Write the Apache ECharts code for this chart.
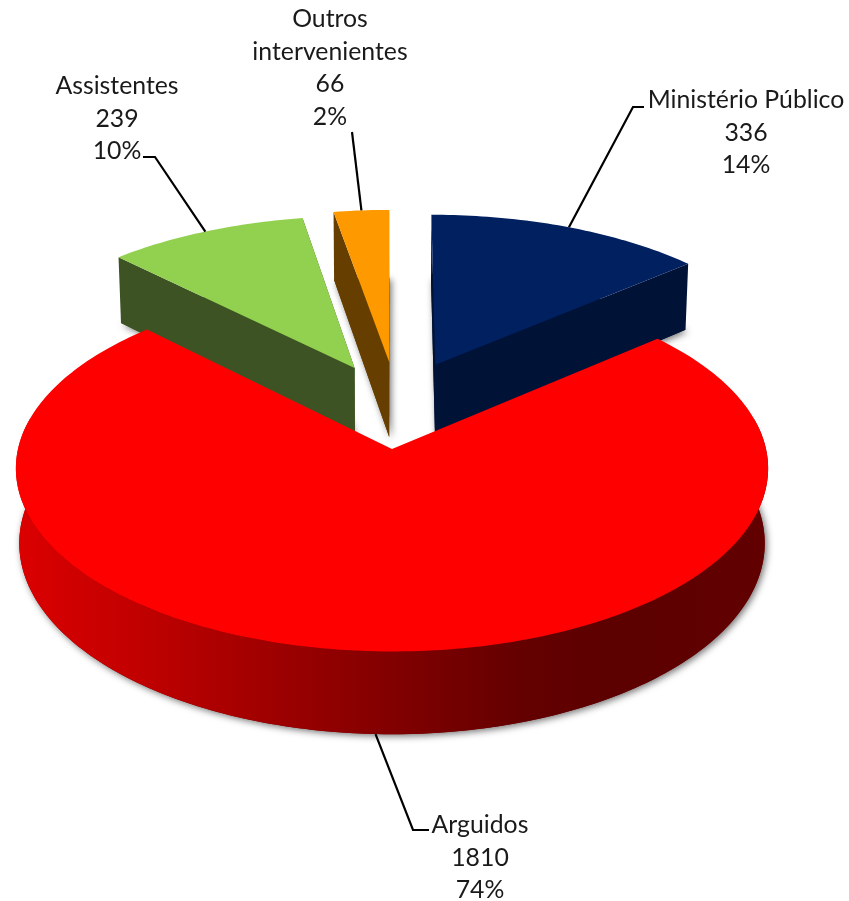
<!DOCTYPE html>
<html>
<head>
<meta charset="utf-8">
<style>
  html, body { margin: 0; padding: 0; background: #fff; }
  #main { width: 849px; height: 901px; }
</style>
<script src="https://cdn.jsdelivr.net/npm/echarts@6/dist/echarts.min.js"></script>
</head>
<body>
<div id="main"></div>
<script>
// chart data, clockwise from 12 o'clock
var categories = ['Ministério Público', 'Arguidos', 'Assistentes', 'Outros\nintervenientes'];
var values = [336, 1810, 239, 66];
var percents = ['14%', '74%', '10%', '2%'];

// look of each slice: explode is in pie radii on the ground plane
var looks = [
    { top: '#002060', wall: '#001337', explode: [0.122, 0.49], radius: 1.01, height: 74, z: 1 },
    { top: '#ff0000', wall: null, explode: [0, 0], radius: 1, height: 74, z: 5 },
    { top: '#92d050', wall: '#3e5323', explode: [-0.105, 0.47], radius: 1.02, height: 74, z: 1 },
    { top: '#ff9900', wall: '#663f00', explode: [-0.008, 0.506], radius: 1.03, height: 79, z: 2 }
];
// label centre, first line y, and the elbow of the leader line
var labelSpots = [
    { x: 746, y: 100, elbow: [[633, 107], [644, 107]] },
    { x: 480, y: 825, elbow: [[413, 830], [429, 830]] },
    { x: 117, y: 86, elbow: [[155, 157], [143, 157]] },
    { x: 330, y: 19, elbow: [[352, 132]] }
];

// simple perspective view of the pie
var view = { cx: 392, cy: 449, rx: 374, ry: 181, k: 0.106, shrink: 0.991 };

function project(px, py, drop) {
    var w = 1 + view.k * py;
    var sx = drop ? view.shrink : 1;
    return [
        view.cx + view.rx * px / w * sx,
        view.cy - (view.ry * py - drop) / w
    ];
}

var total = values.reduce(function (a, b) { return a + b; }, 0);
var starts = [];
values.reduce(function (acc, v, i) { starts[i] = acc; return acc + v; }, 0);

function rimPoint(look, deg, drop) {
    var a = deg * Math.PI / 180;
    return project(
        look.explode[0] + look.radius * Math.sin(a),
        look.explode[1] + look.radius * Math.cos(a),
        drop
    );
}

function arcPoints(look, from, to, drop) {
    var pts = [];
    var n = Math.max(2, Math.ceil(Math.abs(to - from)));
    for (var i = 0; i <= n; i++) {
        pts.push(rimPoint(look, from + (to - from) * i / n, drop));
    }
    return pts;
}

function polygon(points, fill, z2, extra) {
    var style = { fill: fill };
    if (extra) { for (var key in extra) { style[key] = extra[key]; } }
    return { type: 'polygon', z2: z2, shape: { points: points }, style: style, silent: true };
}

function renderSlice(params, api) {
    var i = params.dataIndex;
    var look = looks[i];
    var h = look.height;
    var value = api.value(0);
    var from = starts[i] / total * 360;
    var to = from + value / total * 360;
    var mid = (from + to) / 2;
    var apexTop = project(look.explode[0], look.explode[1], 0);
    var apexDown = project(look.explode[0], look.explode[1], h);
    var children = [];

    // bottom face only throws the soft shadow
    children.push(polygon([apexDown].concat(arcPoints(look, from, to, h)), look.wall || '#7a0000', 0, {
        shadowColor: 'rgba(0,0,0,0.55)', shadowBlur: 7, shadowOffsetX: 2, shadowOffsetY: 2
    }));

    if (look.wall) {
        [from, to].forEach(function (deg) {
            children.push(polygon([apexTop, rimPoint(look, deg, 0), rimPoint(look, deg, h), apexDown], look.wall, look.z));
        });
    } else {
        // round front wall with its light going from left to right
        var a = 80, b = 280;
        var front = arcPoints(look, a, b, 0).concat(arcPoints(look, a, b, h).reverse());
        children.push(polygon(front, new echarts.graphic.LinearGradient(0, 0, 1, 0, [
            { offset: 0, color: '#dc0000' },
            { offset: 0.17, color: '#c00000' },
            { offset: 0.33, color: '#a00000' },
            { offset: 0.51, color: '#800000' },
            { offset: 0.67, color: '#640000' },
            { offset: 0.8, color: '#5c0000' },
            { offset: 1, color: '#620000' }
        ]), look.z));
    }

    children.push(polygon([apexTop].concat(arcPoints(look, from, to, 0)), look.top, look.z + 1));

    // leader line from the outer rim to the label
    var spot = labelSpots[i];
    var start = rimPoint(look, mid, look.wall === null ? h : 0);
    children.push({
        type: 'polyline', z2: 8, silent: true,
        shape: { points: [start].concat(spot.elbow) },
        style: { stroke: '#000', lineWidth: 2.2, fill: null }
    });

    children.push({
        type: 'text', z2: 9, silent: true,
        x: spot.x, y: spot.y - 16,
        style: {
            text: categories[i] + '\n' + value + '\n' + percents[i],
            fill: '#1a1a1a',
            font: '24.8px Lato',
            lineHeight: 32.5,
            align: 'center',
            verticalAlign: 'top'
        }
    });

    return { type: 'group', children: children };
}

var chart = echarts.init(document.getElementById('main'));
chart.setOption({
    animation: false,
    backgroundColor: '#fff',
    series: [{
        type: 'custom',
        coordinateSystem: 'none',
        renderItem: renderSlice,
        data: values.map(function (v) { return [v]; })
    }]
});
</script>
</body>
</html>
